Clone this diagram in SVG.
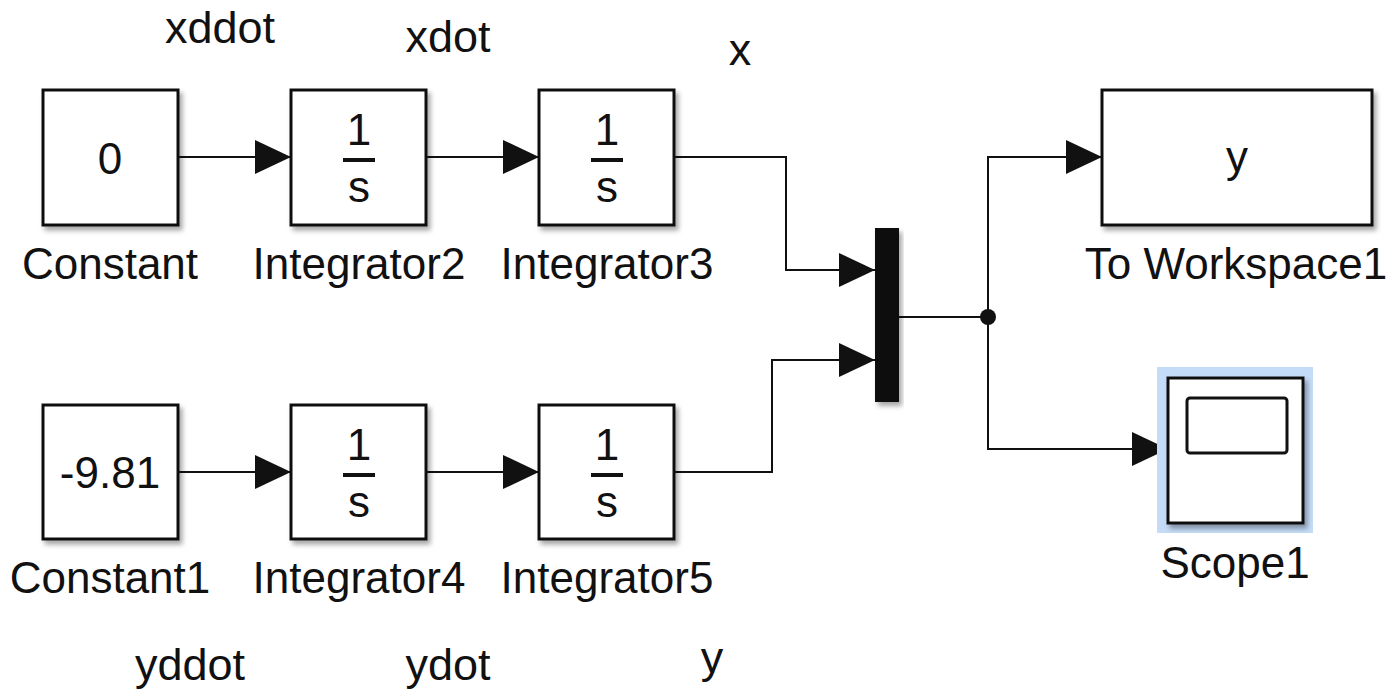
<svg xmlns="http://www.w3.org/2000/svg" width="1400" height="692" viewBox="0 0 1400 692">
  <style>
    .blk { fill: #ffffff; stroke: #111111; stroke-width: 3; filter: url(#shadow); }
    .wire { fill: none; stroke: #111111; stroke-width: 2; }
    .txt { font-family: "Liberation Sans", Arial, sans-serif; font-size: 44px; fill: #111111; text-anchor: middle; }
    .sig { font-size: 45px; }
    .bar { fill: #111111; }
  </style>
  <defs>
    <filter id="shadow" x="-10%" y="-10%" width="130%" height="130%">
      <feDropShadow dx="3" dy="4" stdDeviation="2.5" flood-color="#000000" flood-opacity="0.35"/>
    </filter>
    <marker id="arrow" markerUnits="userSpaceOnUse" markerWidth="36" markerHeight="34" refX="36" refY="17" orient="auto">
      <path d="M0,0 L36,17 L0,34 Z" fill="#111111"/>
    </marker>
  </defs>

  <rect width="1400" height="692" fill="#ffffff"/>

  <!-- signal names -->
  <g id="signal-labels" class="txt sig">
    <text x="220" y="43">xddot</text>
    <text x="448" y="52">xdot</text>
    <text x="740" y="65">x</text>
    <text x="190" y="680">yddot</text>
    <text x="448" y="680">ydot</text>
    <text x="712" y="673">y</text>
  </g>

  <!-- connectors -->
  <g id="connectors">
    <path class="wire" d="M178,157 L291,157" marker-end="url(#arrow)"/>
    <path class="wire" d="M426,157 L539,157" marker-end="url(#arrow)"/>
    <path class="wire" d="M674,157 L786,157 L786,270 L875,270" marker-end="url(#arrow)"/>
    <path class="wire" d="M178,472 L291,472" marker-end="url(#arrow)"/>
    <path class="wire" d="M426,472 L539,472" marker-end="url(#arrow)"/>
    <path class="wire" d="M674,472 L772,472 L772,360 L875,360" marker-end="url(#arrow)"/>
    <path class="wire" d="M899,317 L988,317"/>
    <path class="wire" d="M988,317 L988,157 L1102,157" marker-end="url(#arrow)"/>
    <path class="wire" d="M988,317 L988,449 L1168,449" marker-end="url(#arrow)"/>
    <circle cx="988" cy="317" r="8" fill="#111111"/>
  </g>

  <g id="constant">
    <rect class="blk" x="43" y="90" width="135" height="135"/>
    <text class="txt" x="110" y="174">0</text>
    <text class="txt" x="110" y="279">Constant</text>
  </g>

  <g id="integrator2">
    <rect class="blk" x="291" y="90" width="135" height="135"/>
    <text class="txt" x="359" y="145">1</text>
    <rect class="bar" x="343" y="158" width="32" height="4"/>
    <text class="txt" x="359" y="202">s</text>
    <text class="txt" x="359" y="279">Integrator2</text>
  </g>

  <g id="integrator3">
    <rect class="blk" x="539" y="90" width="135" height="135"/>
    <text class="txt" x="607" y="145">1</text>
    <rect class="bar" x="591" y="158" width="32" height="4"/>
    <text class="txt" x="607" y="202">s</text>
    <text class="txt" x="607" y="279">Integrator3</text>
  </g>

  <g id="constant1">
    <rect class="blk" x="43" y="405" width="135" height="134"/>
    <text class="txt" x="110" y="488">-9.81</text>
    <text class="txt" x="110" y="593">Constant1</text>
  </g>

  <g id="integrator4">
    <rect class="blk" x="291" y="405" width="135" height="134"/>
    <text class="txt" x="359" y="460">1</text>
    <rect class="bar" x="343" y="473" width="32" height="4"/>
    <text class="txt" x="359" y="517">s</text>
    <text class="txt" x="359" y="593">Integrator4</text>
  </g>

  <g id="integrator5">
    <rect class="blk" x="539" y="405" width="135" height="134"/>
    <text class="txt" x="607" y="460">1</text>
    <rect class="bar" x="591" y="473" width="32" height="4"/>
    <text class="txt" x="607" y="517">s</text>
    <text class="txt" x="607" y="593">Integrator5</text>
  </g>

  <g id="mux">
    <rect x="875" y="228" width="24" height="174" fill="#111111" filter="url(#shadow)"/>
  </g>

  <g id="to-workspace1">
    <rect class="blk" x="1102" y="90" width="270" height="135"/>
    <text class="txt" x="1237" y="172">y</text>
    <text class="txt" x="1236" y="279">To Workspace1</text>
  </g>

  <g id="scope1">
    <rect x="1157" y="367" width="156" height="166" fill="#c4dcf7"/>
    <rect class="blk" x="1168" y="378" width="135" height="145"/>
    <rect x="1187" y="398" width="100" height="55" rx="3" fill="none" stroke="#111111" stroke-width="3"/>
    <text class="txt" x="1235" y="578">Scope1</text>
  </g>
</svg>
